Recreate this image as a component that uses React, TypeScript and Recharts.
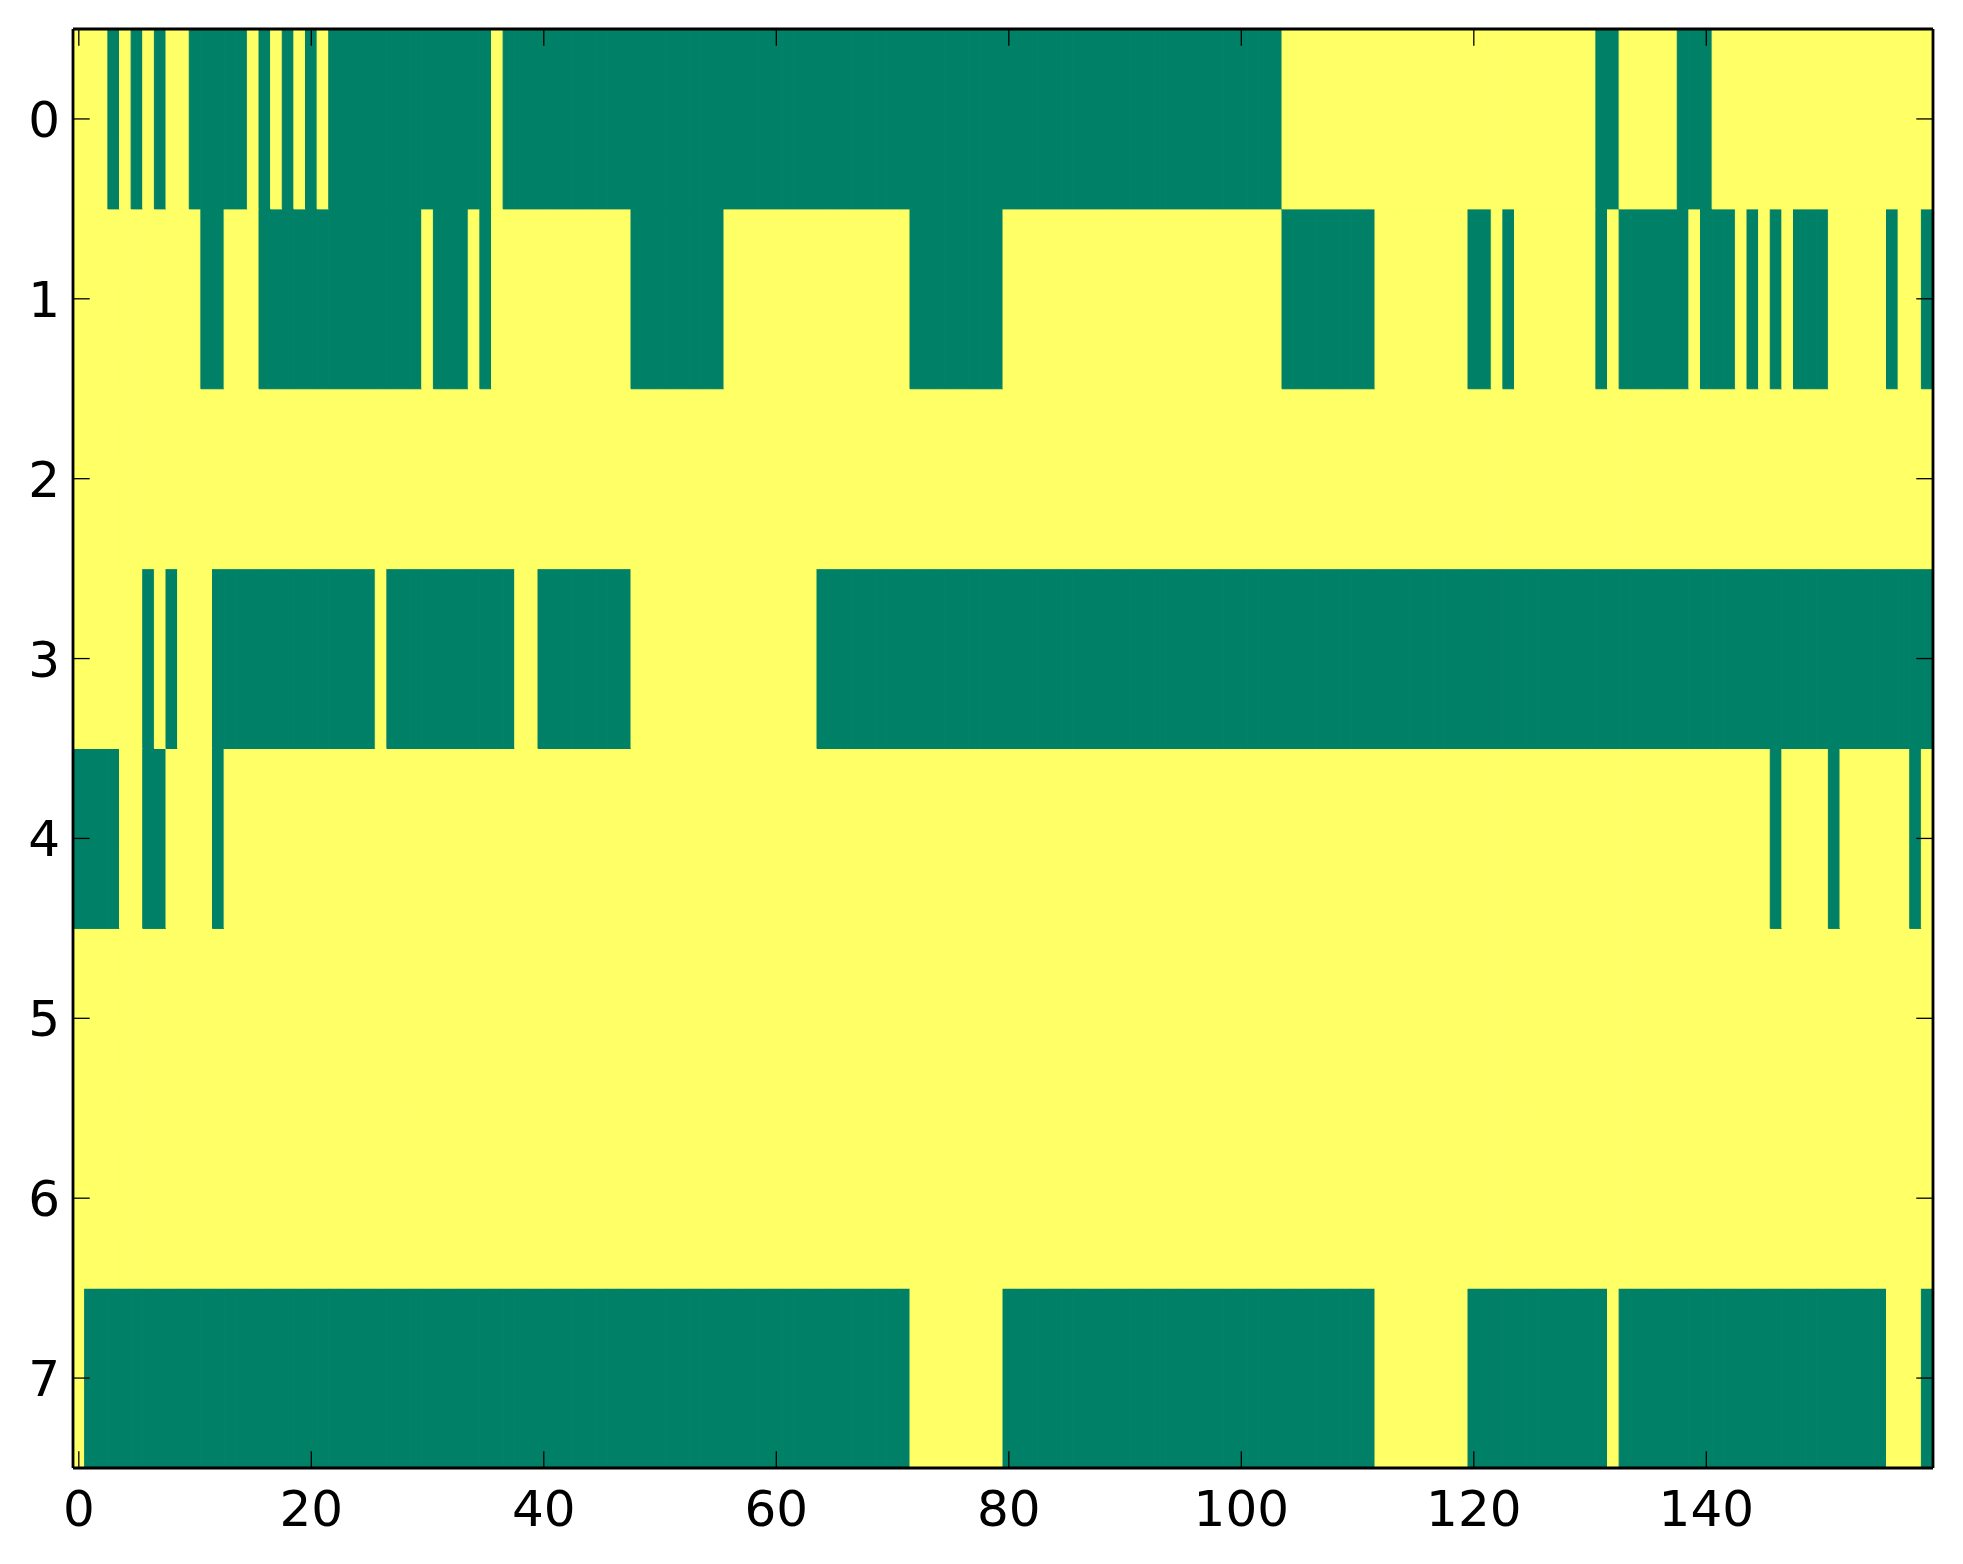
import React from 'react';
import { ComposedChart, Bar, XAxis, YAxis, Cell } from 'recharts';

// summer colormap: 0 -> green, 1 -> yellow
const LOW_COLOR = '#008066';
const HIGH_COLOR = '#ffff66';
const FONT = 'DejaVu Sans';

// Each row: 160 cell values (0/1), written in groups of ten columns
const row0 = ['1110101011', '0000010101', '0100000000', '0000001000', '0000000000', '0000000000', '0000000000', '0000000000',
  '0000000000', '0000000000', '0000111111', '1111111111', '1111111111', '1001111100', '0111111111', '1111111111'];
const row1 = ['1111111111', '1001110000', '0000000000', '1000101111', '1111111100', '0000001111', '1111111111', '1100000000',
  '1111111111', '1111111111', '1111000000', '0011111111', '0010111111', '1010000001', '0001010100', '0111110110'];
const row2 = ['1111111111', '1111111111', '1111111111', '1111111111', '1111111111', '1111111111', '1111111111', '1111111111',
  '1111111111', '1111111111', '1111111111', '1111111111', '1111111111', '1111111111', '1111111111', '1111111111'];
const row3 = ['1111110101', '1100000000', '0000001000', '0000000011', '0000000011', '1111111111', '1111000000', '0000000000',
  '0000000000', '0000000000', '0000000000', '0000000000', '0000000000', '0000000000', '0000000000', '0000000000'];
const row4 = ['0000110011', '1101111111', '1111111111', '1111111111', '1111111111', '1111111111', '1111111111', '1111111111',
  '1111111111', '1111111111', '1111111111', '1111111111', '1111111111', '1111111111', '1111110111', '1011111101'];
const row5 = ['1111111111', '1111111111', '1111111111', '1111111111', '1111111111', '1111111111', '1111111111', '1111111111',
  '1111111111', '1111111111', '1111111111', '1111111111', '1111111111', '1111111111', '1111111111', '1111111111'];
const row6 = ['1111111111', '1111111111', '1111111111', '1111111111', '1111111111', '1111111111', '1111111111', '1111111111',
  '1111111111', '1111111111', '1111111111', '1111111111', '1111111111', '1111111111', '1111111111', '1111111111'];
const row7 = ['1000000000', '0000000000', '0000000000', '0000000000', '0000000000', '0000000000', '0000000000', '0011111111',
  '0000000000', '0000000000', '0000000000', '0011111111', '0000000000', '0010000000', '0000000000', '0000001110'];

const rowStrings = [row0, row1, row2, row3, row4, row5, row6, row7].map((r) => r.join(''));
const rowIds = [0, 1, 2, 3, 4, 5, 6, 7];
const xTicks = [0, 20, 40, 60, 80, 100, 120, 140];
const yTicks = [0, 1, 2, 3, 4, 5, 6, 7];

const columns = rowStrings[0].split('').map((_, i) => i);

const data = columns.map((c) => {
  const entry: Record<string, number> = { col: c };
  rowIds.forEach((r) => {
    entry[`r${r}`] = 1; // each cell has unit height
    entry[`v${r}`] = Number(rowStrings[r][c]);
  });
  return entry;
});

const TICK_LEN = 16.7;
const TICK_W = 1.3;

const BottomTick = (p: any) => {
  const { x, y, payload } = p;
  return (
    <g>
      <line x1={x} x2={x} y1={y} y2={y - TICK_LEN} stroke="#000" strokeWidth={TICK_W} />
      <text x={x} y={y + 57.5} textAnchor="middle" fontSize={50} fontFamily={FONT} fill="#000">
        {payload.value}
      </text>
    </g>
  );
};

const TopTick = (p: any) => {
  const { x, y } = p;
  return <line x1={x} x2={x} y1={y} y2={y + TICK_LEN} stroke="#000" strokeWidth={TICK_W} />;
};

const LeftTick = (p: any) => {
  const { x, y, payload } = p;
  return (
    <g>
      <line x1={x} x2={x + TICK_LEN} y1={y} y2={y} stroke="#000" strokeWidth={TICK_W} />
      <text x={x - 13} y={y + 18} textAnchor="end" fontSize={50} fontFamily={FONT} fill="#000">
        {payload.value}
      </text>
    </g>
  );
};

const RightTick = (p: any) => {
  const { x, y } = p;
  return <line x1={x} x2={x - TICK_LEN} y1={y} y2={y} stroke="#000" strokeWidth={TICK_W} />;
};

const spine = { stroke: '#000', strokeWidth: 2.8 };

export default function App() {
  return (
    <div style={{ position: 'absolute', left: 0, top: 0, width: 1963, height: 1564, background: '#fff' }}>
      <ComposedChart
        width={1963}
        height={1564}
        data={data}
        margin={{ top: 28, right: 0, bottom: 0, left: 0 }}
        barCategoryGap={0}
        barGap={0}
      >
        <YAxis yAxisId="bar" type="number" domain={[0, 8]} allowDataOverflow hide width={0} />
        {[7, 6, 5, 4, 3, 2, 1, 0].map((r) => (
          <Bar
            key={r}
            dataKey={`r${r}`}
            stackId="grid"
            xAxisId="x"
            yAxisId="bar"
            barSize={11.62}
            isAnimationActive={false}
          >
            {data.map((d, i) => {
              const color = d[`v${r}`] === 1 ? HIGH_COLOR : LOW_COLOR;
              return <Cell key={i} fill={color} stroke={color} strokeWidth={1} />;
            })}
          </Bar>
        ))}
        <XAxis
          xAxisId="x"
          dataKey="col"
          type="category"
          orientation="bottom"
          ticks={xTicks}
          height={96}
          tickSize={0}
          tickMargin={0}
          tickLine={false}
          axisLine={spine}
          tick={<BottomTick />}
          interval={0}
        />
        <XAxis
          xAxisId="top"
          dataKey="col"
          type="category"
          orientation="top"
          ticks={xTicks}
          height={1}
          tickSize={0}
          tickMargin={0}
          tickLine={false}
          axisLine={spine}
          tick={<TopTick />}
          interval={0}
        />
        <YAxis
          yAxisId="left"
          type="number"
          orientation="left"
          domain={[-0.5, 7.5]}
          reversed
          allowDataOverflow
          ticks={yTicks}
          width={73}
          tickSize={0}
          tickMargin={0}
          tickLine={false}
          axisLine={spine}
          tick={<LeftTick />}
          interval={0}
        />
        <YAxis
          yAxisId="right"
          type="number"
          orientation="right"
          domain={[-0.5, 7.5]}
          reversed
          allowDataOverflow
          ticks={yTicks}
          width={30}
          tickSize={0}
          tickMargin={0}
          tickLine={false}
          axisLine={spine}
          tick={<RightTick />}
          interval={0}
        />
      </ComposedChart>
    </div>
  );
}
